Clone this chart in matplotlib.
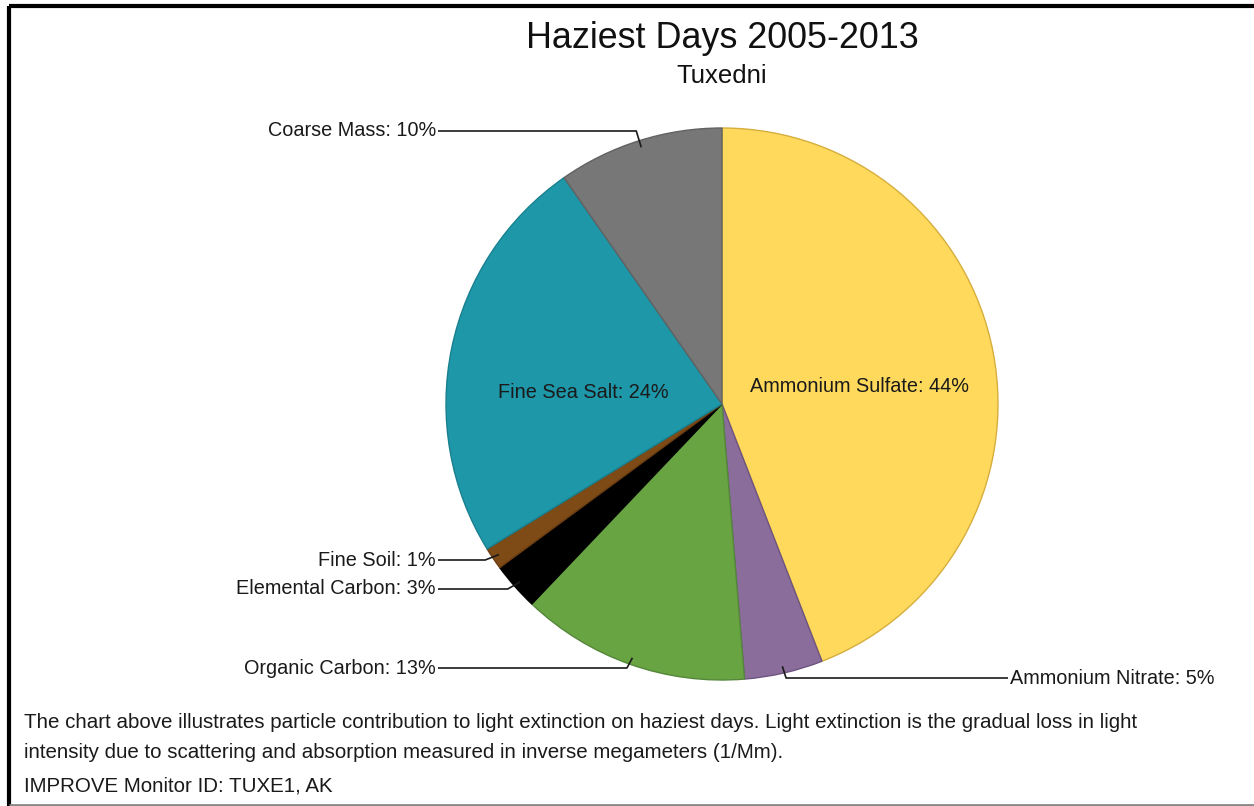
import numpy as np
import matplotlib
matplotlib.use("Agg")
import matplotlib.pyplot as plt

plt.rcParams['font.family'] = ['Liberation Sans', 'DejaVu Sans']

# data (percent of light extinction)
species = ['Ammonium Sulfate', 'Ammonium Nitrate', 'Organic Carbon',
           'Elemental Carbon', 'Fine Soil', 'Fine Sea Salt', 'Coarse Mass']
shares = [44.1, 4.6, 13.4, 2.8, 1.3, 24.1, 9.7]
shown_pct = [44, 5, 13, 3, 1, 24, 10]
colors = ['#FED95C', '#8A6D9B', '#68A442', '#000000', '#7E4A16', '#1E97A9', '#777777']
edges = ['#D6AE3E', '#6E5580', '#55873A', '#000000', '#6A3D12', '#18808F', '#626262']

W, H = 1254, 806
fig = plt.figure(figsize=(W / 100, H / 100), dpi=100)
ax = fig.add_axes([0, 0, 1, 1])

cx, cy, r = 722, H - 404, 276

wedges, _ = ax.pie(shares, colors=colors, startangle=90, counterclock=False,
                   center=(cx, cy), radius=r, frame=True,
                   wedgeprops=dict(linewidth=1.0))
for w, ec in zip(wedges, edges):
    w.set_edgecolor(ec)
ax.set_xlim(0, W)
ax.set_ylim(0, H)
ax.set_aspect('equal')
ax.axis('off')

lbl_size = 14.3
# labels inside the two big slices
inside = {0: (859, 386), 5: (583, 392)}
# outside labels: horizontal leader y (pixels from top), side
outside = {1: (678, 'right'), 2: (668, 'left'), 3: (589, 'left'),
           4: (560, 'left'), 6: (131, 'left')}

for i, w in enumerate(wedges):
    text = f'{species[i]}: {shown_pct[i]}%'
    if i in inside:
        x, y = inside[i]
        ax.text(x, H - y, text, ha='center', va='center', fontsize=lbl_size, color='#1a1a1a')
        continue
    ly, side = outside[i]
    mid = np.deg2rad((w.theta1 + w.theta2) / 2)
    x0, y0 = cx + 0.975 * r * np.cos(mid), cy + 0.975 * r * np.sin(mid)
    x1 = cx + 1.035 * r * np.cos(mid)
    y1 = H - ly
    xe = 438 if side == 'left' else 1008
    ax.plot([x0, x1, xe], [y0, y1, y1], color='#1a1a1a', lw=1.2, solid_capstyle='butt')
    if side == 'left':
        ax.text(xe - 2, y1, text, ha='right', va='center', fontsize=lbl_size, color='#1a1a1a')
    else:
        ax.text(xe + 2, y1, text, ha='left', va='center', fontsize=lbl_size, color='#1a1a1a')

ax.text(cx, H - 38, 'Haziest Days 2005-2013', ha='center', va='center', fontsize=25.8, color='#111111')
ax.text(cx, H - 76, 'Tuxedni', ha='center', va='center', fontsize=18.5, color='#111111')

notes = ['The chart above illustrates particle contribution to light extinction on haziest days. '
         'Light extinction is the gradual loss in light',
         'intensity due to scattering and absorption measured in inverse megameters (1/Mm).',
         'IMPROVE Monitor ID: TUXE1, AK']
for txt, y in zip(notes, [722, 752, 786]):
    ax.text(24, H - y, txt, ha='left', va='center', fontsize=14.8, color='#1a1a1a')

# frame
ax.plot([8.5, 8.5], [0, H - 5.5], color='black', lw=3, solid_capstyle='butt')
ax.plot([8.5, W], [H - 5.5, H - 5.5], color='black', lw=3, solid_capstyle='butt')
ax.plot([8.5, W], [1.5, 1.5], color='#888888', lw=2, solid_capstyle='butt')

fig.savefig('out.png', dpi=100)
